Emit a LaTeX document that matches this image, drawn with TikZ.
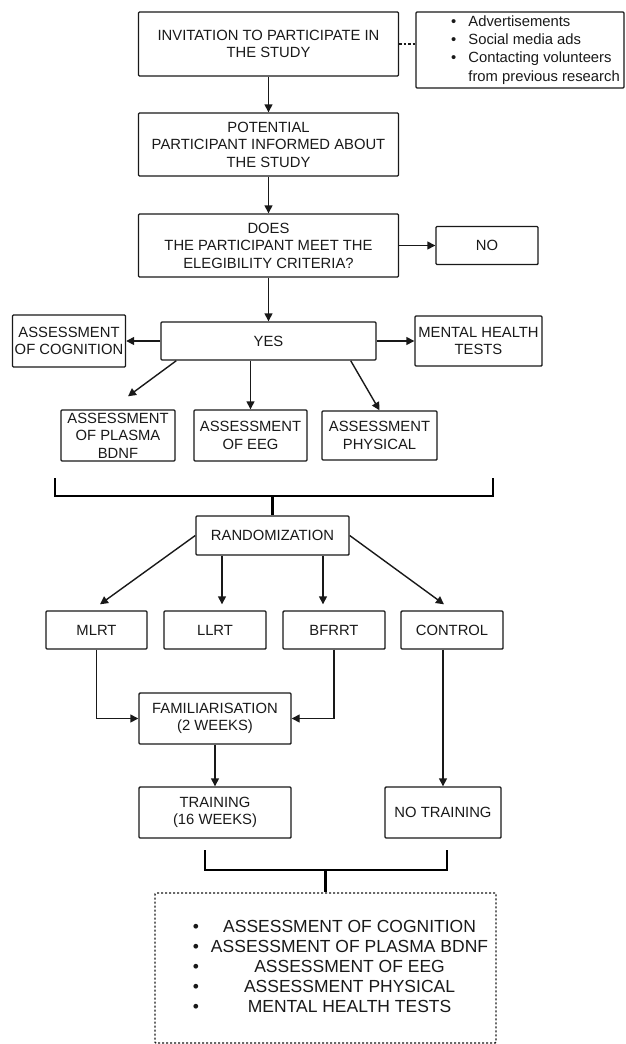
\documentclass[tikz,border=0pt]{standalone}
\usepackage{fontspec}
\setmainfont{Liberation Sans}
\usetikzlibrary{arrows.meta,positioning}
\begin{document}
\begin{tikzpicture}[x=1pt,y=-1pt]
	\useasboundingbox (0,0) rectangle (626,1044);
	\begin{scope}[line width=1.4pt,color=black!90,
		node distance=100pt,on grid,>={Triangle[length=8pt,width=8pt]},
		boxST/.style={rectangle,draw,rounded corners=1pt,align=center,inner xsep=0.5pt,inner ysep=0pt,font=\fontsize{14.8}{17.5}\selectfont},
		boxSRC/.style={boxST,minimum width=208pt,minimum height=76pt,font=\fontsize{14.8}{18.3}\selectfont},
		boxOUT/.style={boxST,dash pattern=on 2pt off 2pt,minimum width=341pt,minimum height=150pt,font=\fontsize{17.5}{20}\selectfont},
		brace/.style={line width=2.4pt,draw=black}]
		\node [boxST,minimum width=260pt,minimum height=64pt]	(invite)	at (268.5,44)	{INVITATION TO PARTICIPATE IN\\THE STUDY};
		\node [boxSRC]	(sources)	at (520,50)	{\hspace*{31pt}\begin{tabular}{@{}c@{\hspace{12pt}}l@{}}\textbullet & Advertisements\\ \textbullet & Social media ads\\ \textbullet & Contacting volunteers\\ & from previous research\end{tabular}};
		\node [boxST,minimum width=260pt,minimum height=63pt]	(inform)	[below=100.5pt of invite]	{POTENTIAL\\PARTICIPANT INFORMED ABOUT\\THE STUDY};
		\node [boxST,minimum width=260pt,minimum height=63pt]	(elig)		[below=101pt of inform]	{DOES\\THE PARTICIPANT MEET THE\\ELEGIBILITY CRITERIA?};
		\node [boxST,minimum width=102pt,minimum height=38pt]	(no)		[right=218.5pt of elig]	{NO};
		\node [boxST,minimum width=215pt,minimum height=38pt]	(yes)		[below=95.5pt of elig]	{YES};
		\node [boxST,minimum width=113pt,minimum height=52pt]	(cogn)		[left=199.5pt of yes]	{ASSESSMENT\\OF COGNITION};
		\node [boxST,minimum width=127pt,minimum height=50pt]	(mental)	[right=210pt of yes]	{MENTAL HEALTH\\TESTS};
		\node [boxST,minimum width=114pt,minimum height=51pt]	(plasma)	at (118,435.5)	{ASSESSMENT\\OF PLASMA\\BDNF};
		\node [boxST,minimum width=113pt,minimum height=51pt]	(eeg)		at (250.5,435.5)	{ASSESSMENT\\OF EEG};
		\node [boxST,minimum width=115pt,minimum height=49pt]	(phys)		at (379.5,435.5)	{ASSESSMENT\\PHYSICAL};
		\node [boxST,minimum width=153pt,minimum height=39pt]	(rand)		at (272.5,535.5)	{RANDOMIZATION};
		\node [boxST,minimum width=101pt,minimum height=38pt]	(mlrt)		at (96.5,630)	{MLRT};
		\node [boxST,minimum width=102pt,minimum height=38pt]	(llrt)		[right=118.5pt of mlrt]	{LLRT};
		\node [boxST,minimum width=102pt,minimum height=38pt]	(bfrrt)		[right=119pt of llrt]	{BFRRT};
		\node [boxST,minimum width=102pt,minimum height=38pt]	(control)	[right=118pt of bfrrt]	{CONTROL};
		\node [boxST,minimum width=152pt,minimum height=51pt]	(fam)		at (215,718.5)	{FAMILIARISATION\\(2 WEEKS)};
		\node [boxST,minimum width=152pt,minimum height=51pt]	(train)		[below=94pt of fam]	{TRAINING\\(16 WEEKS)};
		\node [boxST,minimum width=116pt,minimum height=51pt]	(notrain)	[right=228pt of train]	{NO TRAINING};
		\node [boxOUT]	(outcome)	at (325.5,968)	{\hspace*{30pt}\begin{tabular}{@{}c@{\hspace{12pt}}c@{}}\textbullet & ASSESSMENT OF COGNITION\\ \textbullet & ASSESSMENT OF PLASMA BDNF\\ \textbullet & ASSESSMENT OF EEG\\ \textbullet & ASSESSMENT PHYSICAL\\ \textbullet & MENTAL HEALTH TESTS\end{tabular}};
		% brackets
		\coordinate (b1l) at (55,478);
		\coordinate (b1) at (274,496);
		\coordinate (b1r) at (493,478);
		\coordinate (b2l) at (205,850);
		\coordinate (b2) at (326,870);
		\coordinate (b2r) at (447,850);
		\draw [brace] (b1l) |- (b1) -| (b1r);
		\draw [brace] (rand.north |- b1) -- (rand.north);
		\draw [brace] (b2l) |- (b2) -| (b2r);
		\draw [brace] (outcome.north |- b2) -- (outcome.north);
		\draw [dash pattern=on 2.5pt off 2pt] (invite.east) -- (invite.east -| sources.west);
		\path 
		(invite) edge [->]		(inform)
		(inform) edge [->]		(elig)
		(elig) edge [->]		(no)
		(elig) edge [->]		(yes)
		(yes) edge [->]		(cogn)
		(yes) edge [->]		(mental)
		([xshift=16pt]yes.south west) edge [->]		([xshift=10pt,yshift=13pt]plasma.north)
		(eeg.north |- yes.south) edge [->]		(eeg.north)
		([xshift=-26pt]yes.south east) edge [->]		(phys.north)
		(rand.west) edge [->]		([xshift=3.5pt,yshift=6pt]mlrt.north)
		([xshift=7pt]llrt.north |- rand.south) edge [->]		([xshift=7pt,yshift=6pt]llrt.north)
		([xshift=-11pt]bfrrt.north |- rand.south) edge [->]		([xshift=-11pt,yshift=6pt]bfrrt.north)
		(rand.east) edge [->]		([xshift=-8pt,yshift=6pt]control.north)
		(fam) edge [->]		(train)
		(notrain.north |- control.south) edge [->]		(notrain.north)
		;
		\draw [->] (mlrt.south) |- (fam.west);
		\draw [->] (bfrrt.south) |- (fam.east);
	\end{scope}
\end{tikzpicture}
\end{document}
